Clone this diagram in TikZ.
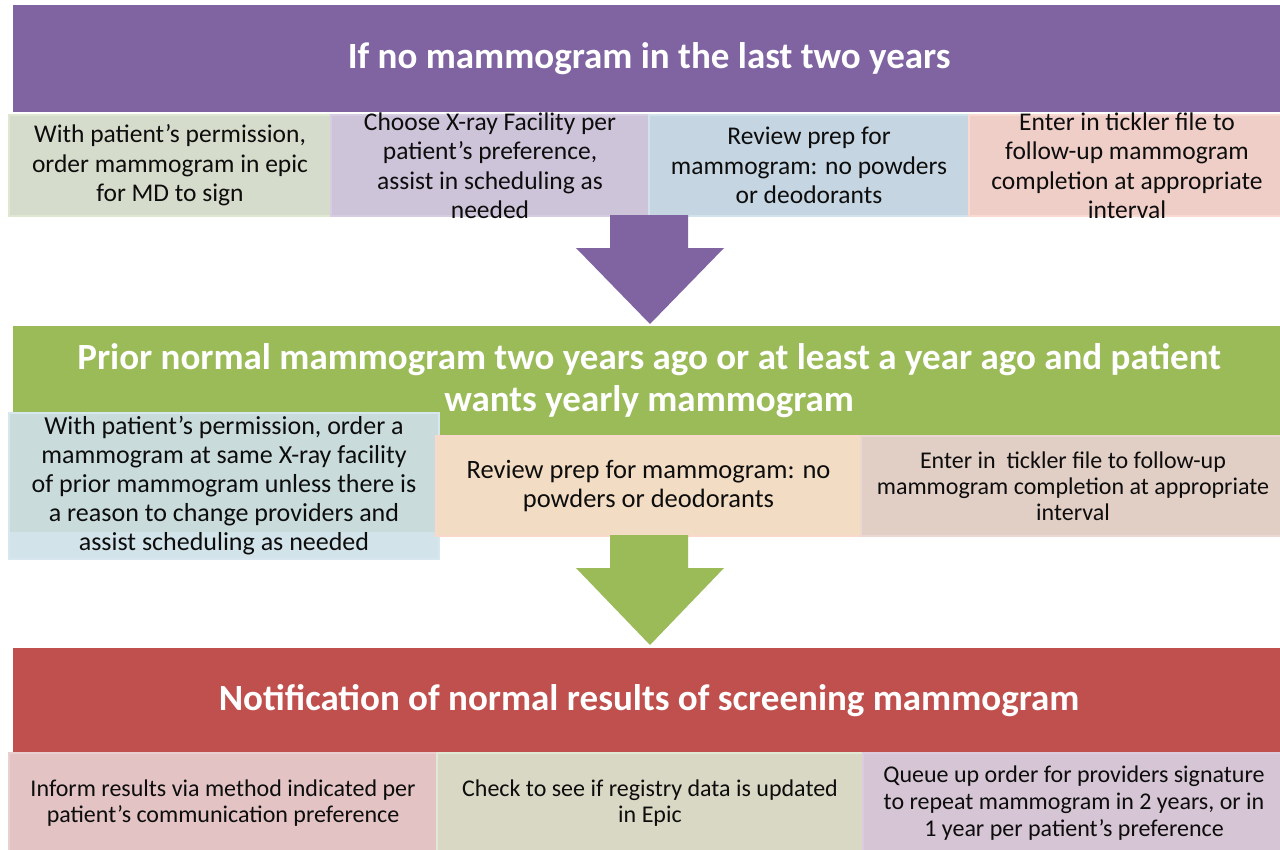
\documentclass[tikz,border=0pt]{standalone}
\usepackage{fontspec}
\setmainfont{Carlito}
\usetikzlibrary{calc}
\definecolor{hpurple}{HTML}{8064A2}
\definecolor{hgreen}{HTML}{9BBB59}
\definecolor{hred}{HTML}{C0504D}
\definecolor{txt}{HTML}{0D0D0D}
\definecolor{fa1}{HTML}{D6DCCB}\definecolor{da1}{HTML}{DEE8D1}
\definecolor{fa2}{HTML}{CEC4DA}\definecolor{da2}{HTML}{D6CDE2}
\definecolor{fa3}{HTML}{C5D5E1}\definecolor{da3}{HTML}{D0E2EA}
\definecolor{fa4}{HTML}{F0CEC8}\definecolor{da4}{HTML}{F8DAD0}
\definecolor{fb1}{HTML}{D3E3EA}\definecolor{db1}{HTML}{D8E7EF}\definecolor{gb1}{HTML}{C9DCDB}
\definecolor{fb2}{HTML}{F2DCC4}\definecolor{db2}{HTML}{F8D9CC}
\definecolor{fb3}{HTML}{E1CEC5}\definecolor{db3}{HTML}{EDD7D3}
\definecolor{fc1}{HTML}{E3C3C3}\definecolor{dc1}{HTML}{E9CFCF}
\definecolor{fc2}{HTML}{D9D8C4}\definecolor{dc2}{HTML}{E0E9D3}
\definecolor{fc3}{HTML}{D6C5D4}\definecolor{dc3}{HTML}{DDCCDD}
\tikzset{
  x=1pt,y=-1pt,
  header/.style={anchor=north west,fill=#1,draw=none,inner sep=0pt,align=center,
    text=white,font=\fontsize{37}{42}\selectfont\bfseries},
  subbox/.style 2 args={anchor=north west,fill=#1,draw=#2,line width=2pt,inner sep=0pt,
    align=center,text=txt,font=\fontsize{25.5}{29.5}\selectfont},
}
\begin{document}
\begin{tikzpicture}
\useasboundingbox (0,0) rectangle (1280,849);
% headers
\node[header=hpurple,minimum width=1272pt,minimum height=107pt] (h1) at (13,5)
  {If no mammogram in the last two years};
\node[header=hgreen,minimum width=1272pt,minimum height=109pt] (h2) at (13,326)
  {Prior normal mammogram two years ago or at least a year ago and patient\\wants yearly mammogram};
\node[header=hred,minimum width=1272pt,minimum height=104pt] (h3) at (13,648)
  {Notification of normal results of screening mammogram};
% row 1
\node[subbox={fa1}{da1},minimum width=322pt,minimum height=101pt] (a1) at (8,114)
  {With patient’s permission,\\order mammogram in epic\\for MD to sign};
\node[subbox={fa2}{da2},minimum width=318pt,minimum height=101pt,inner ysep=-8pt] (a2) at (330,114)
  {Choose X-ray Facility per\\patient’s preference,\\assist in scheduling as\\needed};
\node[subbox={fa3}{da3},minimum width=320pt,minimum height=101pt] (a3) at (648,114)
  {Review prep for\\mammogram: no powders\\or deodorants};
\node[subbox={fa4}{da4},minimum width=316pt,minimum height=101pt,inner ysep=-8pt] (a4) at (968,114)
  {Enter in tickler file to\\follow-up mammogram\\completion at appropriate\\interval};
% arrow 1
\coordinate (p1) at (650,215);
\fill[hpurple] ($(p1)+(-40,0)$) -- ($(p1)+(38,0)$) -- ($(p1)+(38,33)$) -- ($(p1)+(74,33)$)
  -- ($(p1)+(0,109)$) -- ($(p1)+(-74,33)$) -- ($(p1)+(-40,33)$) -- cycle;
% row 2
\node[subbox={fb1}{db1},minimum width=430pt,minimum height=146pt,
  path picture={\fill[gb1] (path picture bounding box.north west) rectangle ([yshift=27pt]path picture bounding box.south east);},
  font=\fontsize{26}{29}\selectfont] (b1) at (8,412)
  {With patient’s permission, order a\\mammogram at same X-ray facility\\of prior mammogram unless there is\\a reason to change providers and\\assist scheduling as needed};
\node[subbox={fb2}{db2},minimum width=425pt,minimum height=100pt,
  font=\fontsize{26.5}{29.5}\selectfont] (b2) at (435,435)
  {Review prep for mammogram: no\\powders or deodorants};
\node[subbox={fb3}{db3},minimum width=424pt,minimum height=100pt,
  font=\fontsize{24}{26}\selectfont] (b3) at (860,435)
  {Enter in \ tickler file to follow-up\\mammogram completion at appropriate\\interval};
% arrow 2
\coordinate (p2) at (650,535);
\fill[hgreen] ($(p2)+(-40,0)$) -- ($(p2)+(38,0)$) -- ($(p2)+(38,33)$) -- ($(p2)+(74,33)$)
  -- ($(p2)+(0,110)$) -- ($(p2)+(-74,33)$) -- ($(p2)+(-40,33)$) -- cycle;
% row 3
\node[subbox={fc1}{dc1},minimum width=428pt,minimum height=100pt,
  font=\fontsize{24}{26.5}\selectfont] (c1) at (8,752)
  {Inform results via method indicated per\\patient’s communication preference};
\node[subbox={fc2}{dc2},minimum width=426pt,minimum height=100pt,
  font=\fontsize{24}{26.5}\selectfont] (c2) at (436,752)
  {Check to see if registry data is updated\\in Epic};
\node[subbox={fc3}{dc3},minimum width=422pt,minimum height=100pt,
  font=\fontsize{24}{27}\selectfont] (c3) at (862,752)
  {Queue up order for providers signature\\to repeat mammogram in 2 years, or in\\1 year per patient’s preference};
\end{tikzpicture}
\end{document}
